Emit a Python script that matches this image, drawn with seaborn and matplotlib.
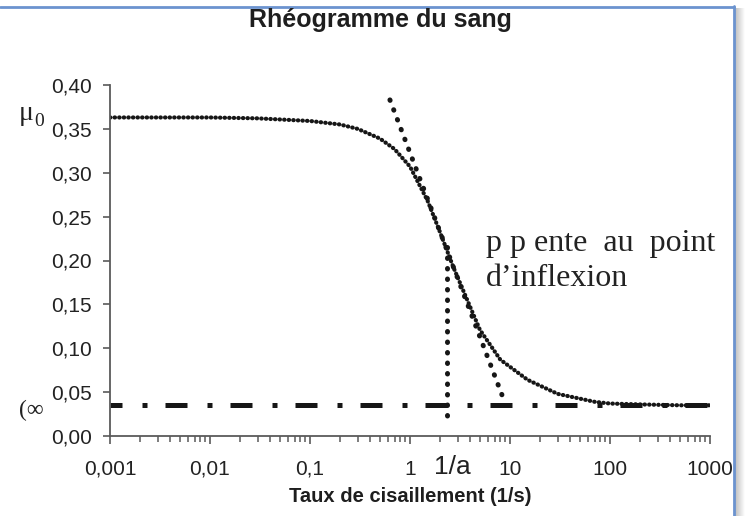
import numpy as np
import matplotlib
matplotlib.use("Agg")
import matplotlib.pyplot as plt
import matplotlib.ticker as mticker
from matplotlib.lines import Line2D
import seaborn as sns

# Blood rheogram: apparent viscosity vs shear rate (log scale)
shear_rate = [0.001, 0.003, 0.01, 0.03, 0.1, 0.2, 0.3, 0.5, 0.7, 1.0, 1.5,
              2.0, 2.7, 3.4, 5.0, 8.0, 15, 30, 70, 100, 200, 500, 1000]
viscosity = [0.363, 0.363, 0.363, 0.362, 0.359, 0.355, 0.350, 0.339, 0.327,
             0.307, 0.268, 0.232, 0.193, 0.166, 0.121, 0.087, 0.064, 0.048,
             0.039, 0.037, 0.036, 0.035, 0.035]

mu_inf = 0.035            # plateau viscosity at high shear
inv_a = 2.34              # shear rate of the inflexion point (1/a)
vline_y = [0.215, 0.012]  # extent of the vertical marker at 1/a
tangent_x = [0.63, 8.3]   # tangent at the inflexion point
tangent_y = [0.383, 0.047]

x_ticks = [0.001, 0.01, 0.1, 1, 10, 100, 1000]
x_tick_labels = ["0,001", "0,01", "0,1", "1", "10", "100", "1000"]
y_ticks = [0.00, 0.05, 0.10, 0.15, 0.20, 0.25, 0.30, 0.35, 0.40]
y_tick_labels = ["0,00", "0,05", "0,10", "0,15", "0,20", "0,25", "0,30", "0,35", "0,40"]

sns.set_theme(style="ticks")
plt.rcParams["font.family"] = ["Liberation Sans", "DejaVu Sans"]

W, H = 745, 516
fig = plt.figure(figsize=(W / 100, H / 100), dpi=100, facecolor="white")
ax = fig.add_axes([110 / W, 80 / H, 600 / W, 351 / H])
ax.set_facecolor("white")

ink = "#161616"
axis_col = "#5a5a5a"
text_col = "#222222"

# viscosity curve drawn as a dense dotted line
sns.lineplot(x=shear_rate, y=viscosity, ax=ax, color=ink, lw=3.0,
             linestyle=(0, (0.1, 1.0)), dash_capstyle="round", sort=False)

# tangent at the inflexion point
ax.plot(tangent_x, tangent_y, color=ink, lw=3.6,
        linestyle=(0, (0.1, 2.0)), dash_capstyle="round")

# vertical marker at 1/a
ax.plot([inv_a, inv_a], vline_y, color=ink, lw=3.6,
        linestyle=(0, (0.1, 2.0)), dash_capstyle="round")

# high-shear plateau
ax.plot([x_ticks[0], x_ticks[-1]], [mu_inf, mu_inf], color=ink, lw=3.6,
        linestyle=(2.0, (4.4, 4.0, 1.0, 3.6)), dash_capstyle="butt")

ax.set_xscale("log")
ax.set_xlim(x_ticks[0], x_ticks[-1])
ax.set_ylim(y_ticks[0], y_ticks[-1])
ax.set_xticks(x_ticks)
ax.set_xticklabels(x_tick_labels)
ax.xaxis.set_minor_locator(mticker.LogLocator(base=10, subs=np.arange(2, 10), numticks=20))
ax.xaxis.set_minor_formatter(mticker.NullFormatter())
ax.set_yticks(y_ticks)
ax.set_yticklabels(y_tick_labels)

ax.tick_params(axis="x", which="major", length=6, width=1.2, color=axis_col,
               pad=11, labelsize=15, labelcolor=text_col)
ax.tick_params(axis="x", which="minor", length=4, width=1.1, color=axis_col)
ax.tick_params(axis="y", which="major", length=5, width=1.2, color=axis_col,
               pad=8, labelsize=15, labelcolor=text_col)
sns.despine(ax=ax)
for side in ("left", "bottom"):
    ax.spines[side].set_color(axis_col)
    ax.spines[side].set_linewidth(1.3)
ax.grid(False)
ax.set_xlabel("")

fig.text(410 / W, 1 - 497 / H, "Taux de cisaillement (1/s)", fontsize=14.5,
         fontweight="bold", color="#1e1e1e", ha="center", va="center")
fig.text(380 / W, 1 - 20 / H, "Rhéogramme du sang", fontsize=18,
         fontweight="bold", color="#1e1e1e", ha="center", va="center")

serif = ["Liberation Serif", "DejaVu Serif"]
fig.text(19 / W, 1 - 114 / H, "μ", fontsize=20, family=serif, color=text_col,
         ha="left", va="center")
fig.text(34 / W, 1 - 121 / H, "0", fontsize=14, family=serif, color=text_col,
         ha="left", va="center")
fig.text(19 / W, 1 - 410 / H, "(∞", fontsize=17, family=serif, color=text_col,
         ha="left", va="center")
fig.text(452 / W, 1 - 467 / H, "1/a", fontsize=19, color=text_col,
         ha="center", va="center")
fig.text(486 / W, 1 - 244 / H, "p p ente  au  point", fontsize=23, family=serif,
         color=text_col, ha="left", va="center")
fig.text(486 / W, 1 - 279 / H, "d\u2019inflexion", fontsize=23, family=serif,
         color=text_col, ha="left", va="center")

# page frame with a soft shadow on the right
shadow = fig.add_axes([734 / W, 0, (W - 734) / W, 1 - 8 / H])
grad = np.linspace(0.72, 1.0, 40)[None, :]
shadow.imshow(np.repeat(grad, 10, axis=0), cmap="gray", vmin=0, vmax=1,
              aspect="auto", extent=[0, 1, 0, 1])
shadow.set_axis_off()
corner = fig.add_axes([734 / W, 1 - 8 / H, (W - 734) / W, 8 / H])
corner.set_facecolor("white")
corner.set_axis_off()
fig.add_artist(Line2D([0, 733.5 / W], [1 - 6.5 / H, 1 - 6.5 / H],
                      transform=fig.transFigure, color="#6b93cf", lw=2.0))
fig.add_artist(Line2D([733.5 / W, 733.5 / W], [0, 1 - 5.5 / H],
                      transform=fig.transFigure, color="#6b93cf", lw=2.0))

fig.savefig("out.png", dpi=100, facecolor="white")
